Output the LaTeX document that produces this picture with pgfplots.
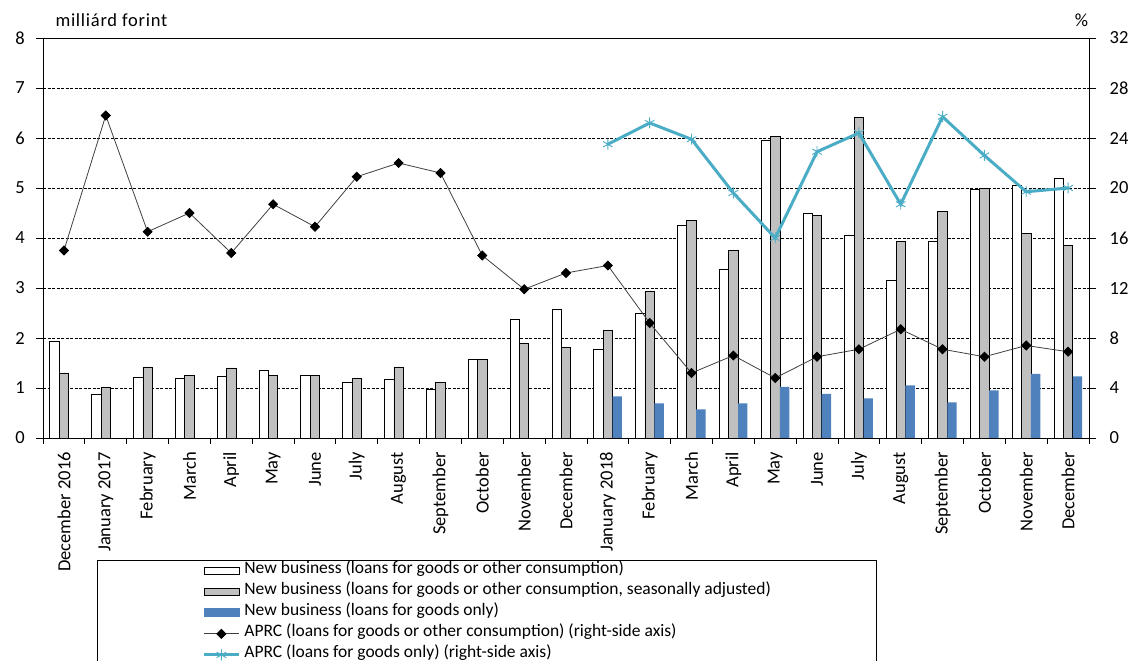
\documentclass[border=0pt]{standalone}
\usepackage{fontspec}
\setmainfont{Carlito}
\usepackage{pgfplots}
\usepackage{pgfplotstable}
\pgfplotsset{compat=1.18}
\definecolor{grayfill}{HTML}{C0C0C0}
\definecolor{bluefill}{HTML}{4F81BD}
\definecolor{aqua}{HTML}{4BACC6}
\newcommand{\tickfont}{\fontsize{18.5bp}{20bp}\selectfont}
\newcommand{\legfont}{\fontsize{17.5bp}{21bp}\selectfont}
\newcommand{\titfont}{\fontsize{18.5bp}{20bp}\selectfont\addfontfeatures{LetterSpace=4}}

\pgfplotstableread{
x nb sa
0 1.93 1.30
1 0.88 1.02
2 1.21 1.42
3 1.19 1.25
4 1.23 1.40
5 1.35 1.25
6 1.25 1.25
7 1.11 1.19
8 1.17 1.42
9 0.98 1.11
10 1.57 1.57
11 2.37 1.90
12 2.57 1.82
13 1.77 2.15
14 2.49 2.93
15 4.26 4.36
16 3.37 3.75
17 5.95 6.03
18 4.50 4.45
19 4.05 6.42
20 3.15 3.93
21 3.93 4.53
22 4.98 4.99
23 5.05 4.10
24 5.19 3.86
}\bars

\pgfplotstableread{
x g
13 0.83
14 0.69
15 0.57
16 0.69
17 1.02
18 0.88
19 0.79
20 1.05
21 0.71
22 0.95
23 1.28
24 1.23
}\goods

\pgfplotstableread{
x aprc
0 15.0
1 25.8
2 16.5
3 18.0
4 14.8
5 18.7
6 16.9
7 20.9
8 22.0
9 21.2
10 14.6
11 11.9
12 13.2
13 13.8
14 9.2
15 5.2
16 6.6
17 4.8
18 6.5
19 7.1
20 8.7
21 7.1
22 6.5
23 7.4
24 6.9
}\aprc

\pgfplotstableread{
x ag
13 23.5
14 25.2
15 23.9
16 19.6
17 16.0
18 22.9
19 24.4
20 18.7
21 25.7
22 22.6
23 19.7
24 20.0
}\aprcg

\begin{document}
\begin{tikzpicture}
\path[use as bounding box] (0,0) rectangle (1131bp,661bp);
\clip (0,0) rectangle (1131bp,661bp);
\begin{axis}[
  at={(43bp,223bp)}, anchor=south west,
  scale only axis, width=1046bp, height=400bp,
  xmin=-0.5, xmax=24.5, ymin=0, ymax=8,
  xtick={-0.5,0.5,...,24.5},
  x tick label as interval,
  xticklabels={December 2016,January 2017,February,March,April,May,June,July,August,September,October,November,December,January 2018,February,March,April,May,June,July,August,September,October,November,December},
  ytick={0,1,...,8},
  ytick pos=left, xtick pos=bottom,
  tick align=outside,
  major tick length=6.5bp,
  tick style={black, line width=0.8bp},
  axis line style={black, line width=0.8bp},
  ymajorgrids,
  major grid style={black, line width=0.6bp, dash pattern=on 3bp off 1.5bp},
  ticklabel style={font=\tickfont},
  xticklabel style={rotate=90, anchor=east, inner sep=0pt},
  yticklabel style={anchor=east, inner sep=0pt},
  /pgf/number format/assume math mode=true,
  xticklabel shift=7.5bp, yticklabel shift=11.5bp,
]
\addplot[ybar, bar width=9.4bp, bar shift=-9.4bp, fill=white, draw=black, line width=0.8bp] table[x=x,y=nb]{\bars};
\addplot[ybar, bar width=9.4bp, bar shift=0bp, fill=grayfill, draw=black, line width=0.8bp] table[x=x,y=sa]{\bars};
\addplot[ybar, bar width=9.4bp, bar shift=9.4bp, fill=bluefill, draw=none] table[x=x,y=g]{\goods};
\end{axis}
\begin{axis}[
  at={(43bp,223bp)}, anchor=south west,
  scale only axis, width=1046bp, height=400bp,
  xmin=-0.5, xmax=24.5, ymin=0, ymax=32,
  axis x line=none,
  axis y line*=right,
  ytick={0,4,...,32},
  tick align=outside,
  major tick length=6.5bp,
  tick style={black, line width=0.8bp},
  axis line style={black, line width=0.8bp},
  ticklabel style={font=\tickfont},
  yticklabel style={anchor=west, inner sep=0pt},
  /pgf/number format/assume math mode=true,
  yticklabel shift=14bp,
  legend cell align=left,
  legend style={at={(0.05163,-0.305)}, anchor=north west, draw=black, line width=0.8bp, fill=white,
    inner xsep=105bp, inner ysep=0pt, font=\legfont, column sep=4bp, row sep=0pt,
    nodes={inner sep=0pt, text height=13.5bp, text depth=7.5bp}},
]
\addlegendimage{legend image code/.code={\draw[fill=white,draw=black,line width=0.8bp] (0bp,-3.5bp) rectangle (35bp,3.5bp);}}
\addlegendentry{New business (loans for goods or other consumption)}
\addlegendimage{legend image code/.code={\draw[fill=grayfill,draw=black,line width=0.8bp] (0bp,-3.5bp) rectangle (35bp,3.5bp);}}
\addlegendentry{New business (loans for goods or other consumption, seasonally adjusted)}
\addlegendimage{legend image code/.code={\fill[bluefill] (0bp,-4bp) rectangle (35bp,4bp);}}
\addlegendentry{New business (loans for goods only)}
\addlegendimage{legend image code/.code={\draw[black!75,line width=0.8bp,mark=square*,mark size=3.2bp,mark options={rotate=45,fill=black,draw=black},mark repeat=2,mark phase=2] plot coordinates {(0bp,0bp) (17.5bp,0bp) (35bp,0bp)};}}
\addlegendentry{APRC (loans for goods or other consumption) (right-side axis)}
\addlegendimage{legend image code/.code={\draw[aqua,line width=3bp,mark=asterisk,mark size=5.5bp,mark options={line width=0.9bp},mark repeat=2,mark phase=2] plot coordinates {(0bp,0bp) (17.5bp,0bp) (35bp,0bp)};}}
\addlegendentry{APRC (loans for goods only) (right-side axis)}
\addplot[forget plot, black!75, line width=0.8bp, mark=square*, mark size=3.2bp, mark options={rotate=45, fill=black, draw=black, solid}] table[x=x,y=aprc]{\aprc};
\addplot[forget plot, aqua, line width=3bp, mark=asterisk, mark size=5.5bp, mark options={line width=0.9bp, solid}] table[x=x,y=ag]{\aprcg};
\end{axis}
\node[anchor=base west, inner sep=0pt, font=\titfont] at (55.3bp,634.3bp) {milliárd forint};
\node[anchor=base east, inner sep=0pt, font=\tickfont] at (1088.3bp,634bp) {\%};
\end{tikzpicture}
\end{document}
